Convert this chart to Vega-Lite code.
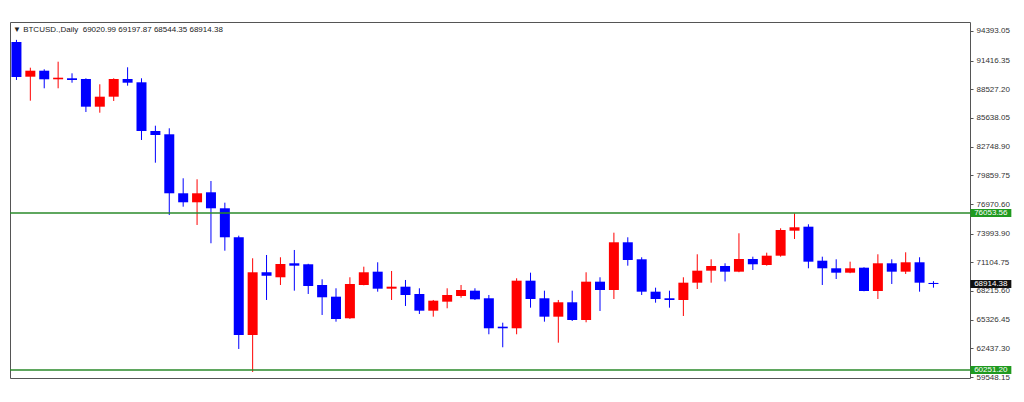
{
  "$schema": "https://vega.github.io/schema/vega-lite/v6.json",
  "width": 960,
  "height": 356,
  "autosize": {"type": "none"},
  "padding": {"left": 10, "top": 22, "right": 54, "bottom": 24},
  "background": "white",
  "config": {"view": {"stroke": "#555555", "strokeWidth": 1}, "font": "Liberation Sans"},
  "title": {"text": "▼ BTCUSD.,Daily\u00a0\u00a069020.99 69197.87 68544.35 68914.38", "anchor": "start", "frame": "group", "offset": -12, "dx": 3, "fontSize": 8, "fontWeight": "normal", "color": "#222222", "font": "Liberation Sans"},
  "datasets": {
    "candles": [
      {"day": 1, "open": 93285, "high": 93500, "low": 89459, "close": 89761},
      {"day": 2, "open": 89791, "high": 90697, "low": 87374, "close": 90395},
      {"day": 3, "open": 90395, "high": 90536, "low": 88623, "close": 89529},
      {"day": 4, "open": 89529, "high": 91302, "low": 88623, "close": 89690},
      {"day": 5, "open": 89630, "high": 90133, "low": 89187, "close": 89459},
      {"day": 6, "open": 89559, "high": 89630, "low": 86236, "close": 86770},
      {"day": 7, "open": 86770, "high": 89026, "low": 86165, "close": 87777},
      {"day": 8, "open": 87777, "high": 89630, "low": 87344, "close": 89559},
      {"day": 9, "open": 89559, "high": 90738, "low": 88885, "close": 89187},
      {"day": 10, "open": 89227, "high": 89630, "low": 83417, "close": 84323},
      {"day": 11, "open": 84323, "high": 84857, "low": 81131, "close": 83920},
      {"day": 12, "open": 83991, "high": 84595, "low": 75864, "close": 78050},
      {"day": 13, "open": 78050, "high": 79560, "low": 76700, "close": 77143},
      {"day": 14, "open": 77143, "high": 79459, "low": 74857, "close": 78050},
      {"day": 15, "open": 78150, "high": 79288, "low": 73015, "close": 76539},
      {"day": 16, "open": 76539, "high": 77103, "low": 72269, "close": 73619},
      {"day": 17, "open": 73619, "high": 73780, "low": 62371, "close": 63780},
      {"day": 18, "open": 63780, "high": 71504, "low": 60060, "close": 70094},
      {"day": 19, "open": 70094, "high": 71836, "low": 67305, "close": 69752},
      {"day": 20, "open": 69591, "high": 71605, "low": 68815, "close": 70930},
      {"day": 21, "open": 71000, "high": 72340, "low": 68241, "close": 70759},
      {"day": 22, "open": 70900, "high": 70950, "low": 67909, "close": 68714},
      {"day": 23, "open": 68815, "high": 69389, "low": 65794, "close": 67577},
      {"day": 24, "open": 67637, "high": 68483, "low": 65120, "close": 65391},
      {"day": 25, "open": 65462, "high": 69591, "low": 65400, "close": 68916},
      {"day": 26, "open": 68815, "high": 70658, "low": 68780, "close": 70094},
      {"day": 27, "open": 70155, "high": 71101, "low": 68141, "close": 68443},
      {"day": 28, "open": 68443, "high": 70225, "low": 67305, "close": 68644},
      {"day": 29, "open": 68644, "high": 69319, "low": 66700, "close": 67808},
      {"day": 30, "open": 67909, "high": 68483, "low": 65895, "close": 66227},
      {"day": 31, "open": 66227, "high": 67305, "low": 65623, "close": 67234},
      {"day": 32, "open": 67134, "high": 68483, "low": 66469, "close": 67808},
      {"day": 33, "open": 67707, "high": 68815, "low": 67536, "close": 68312},
      {"day": 34, "open": 68241, "high": 68483, "low": 67305, "close": 67375},
      {"day": 35, "open": 67476, "high": 67808, "low": 63851, "close": 64455},
      {"day": 36, "open": 64616, "high": 65019, "low": 62542, "close": 64455},
      {"day": 37, "open": 64455, "high": 69490, "low": 63851, "close": 69248},
      {"day": 38, "open": 69248, "high": 70054, "low": 66529, "close": 67405},
      {"day": 39, "open": 67476, "high": 68241, "low": 65120, "close": 65623},
      {"day": 40, "open": 65623, "high": 67305, "low": 63005, "close": 67073},
      {"day": 41, "open": 67073, "high": 68241, "low": 65190, "close": 65291},
      {"day": 42, "open": 65291, "high": 70094, "low": 65059, "close": 69148},
      {"day": 43, "open": 69148, "high": 69591, "low": 66197, "close": 68312},
      {"day": 44, "open": 68312, "high": 74082, "low": 67405, "close": 73115},
      {"day": 45, "open": 73115, "high": 73619, "low": 70759, "close": 71333},
      {"day": 46, "open": 71403, "high": 71605, "low": 67808, "close": 68141},
      {"day": 47, "open": 68141, "high": 68543, "low": 67033, "close": 67405},
      {"day": 48, "open": 67476, "high": 68241, "low": 66529, "close": 67305},
      {"day": 49, "open": 67305, "high": 69591, "low": 65693, "close": 69047},
      {"day": 50, "open": 69047, "high": 71907, "low": 68412, "close": 70255},
      {"day": 51, "open": 70255, "high": 71403, "low": 69047, "close": 70728},
      {"day": 52, "open": 70728, "high": 71000, "low": 69168, "close": 70155},
      {"day": 53, "open": 70155, "high": 74021, "low": 70100, "close": 71433},
      {"day": 54, "open": 71433, "high": 71665, "low": 70326, "close": 70900},
      {"day": 55, "open": 70829, "high": 72068, "low": 70759, "close": 71766},
      {"day": 56, "open": 71766, "high": 74525, "low": 71665, "close": 74354},
      {"day": 57, "open": 74283, "high": 76035, "low": 73447, "close": 74626},
      {"day": 58, "open": 74686, "high": 74928, "low": 70497, "close": 71162},
      {"day": 59, "open": 71262, "high": 71665, "low": 68815, "close": 70497},
      {"day": 60, "open": 70497, "high": 71403, "low": 69419, "close": 70054},
      {"day": 61, "open": 70054, "high": 71162, "low": 70000, "close": 70497},
      {"day": 62, "open": 70557, "high": 70600, "low": 68180, "close": 68211},
      {"day": 63, "open": 68211, "high": 71907, "low": 67405, "close": 71000},
      {"day": 64, "open": 71000, "high": 71403, "low": 68916, "close": 70155},
      {"day": 65, "open": 70155, "high": 72108, "low": 69923, "close": 71101},
      {"day": 66, "open": 71101, "high": 71605, "low": 68141, "close": 69047},
      {"day": 67, "open": 69020.99, "high": 69197.87, "low": 68544.35, "close": 68914.38}
    ],
    "levels": [
      {"level": 76053.56},
      {"level": 60251.20}
    ],
    "tags": [
      {"price": 76053.56, "kind": "level"},
      {"price": 60251.20, "kind": "level"},
      {"price": 68914.38, "kind": "last"}
    ]
  },
  "layer": [
    {
      "data": {"name": "candles"},
      "mark": {"type": "rule", "strokeWidth": 1, "clip": true},
      "encoding": {
        "x": {"field": "day", "type": "quantitative", "scale": {"domain": [0.896, 69.27], "nice": false, "zero": false}, "axis": null},
        "y": {
          "field": "low", "type": "quantitative",
          "scale": {"domain": [59448, 95299], "nice": false, "zero": false},
          "axis": {
            "orient": "right", "title": null, "domain": false, "grid": false,
            "values": [94393.05, 91416.35, 88527.20, 85638.05, 82748.90, 79859.75, 76970.60, 73993.90, 71104.75, 68215.60, 65326.45, 62437.30, 59548.15],
            "tickCount": 30,
            "format": ".2f", "labelFont": "Liberation Sans", "labelFontSize": 8, "labelColor": "#333333",
            "labelOverlap": false, "labelBound": false, "labelFlush": false,
            "tickSize": 3, "tickColor": "#555555", "labelPadding": 3
          }
        },
        "y2": {"field": "high"},
        "color": {"condition": {"test": "datum.close < datum.open", "value": "#0000ff"}, "value": "#ff0000"}
      }
    },
    {
      "data": {"name": "candles"},
      "mark": {"type": "bar", "width": 10, "clip": true},
      "encoding": {
        "x": {"field": "day", "type": "quantitative"},
        "y": {"field": "open", "type": "quantitative"},
        "y2": {"field": "close"},
        "color": {"condition": {"test": "datum.close < datum.open", "value": "#0000ff"}, "value": "#ff0000"}
      }
    },
    {
      "data": {"name": "levels"},
      "mark": {"type": "rule", "color": "#2a8a2a", "strokeWidth": 1.5},
      "encoding": {
        "y": {"field": "level", "type": "quantitative"}
      }
    },
    {
      "data": {"name": "tags"},
      "mark": {"type": "tick", "orient": "horizontal", "size": 41, "thickness": 8, "clip": false, "opacity": 1},
      "encoding": {
        "x": {"datum": 71.13, "type": "quantitative"},
        "y": {"field": "price", "type": "quantitative"},
        "color": {"field": "kind", "type": "nominal", "scale": {"domain": ["level", "last"], "range": ["#1f9a1f", "#111111"]}, "legend": null}
      }
    },
    {
      "data": {"name": "tags"},
      "mark": {"type": "text", "color": "white", "fontSize": 8, "font": "Liberation Sans", "align": "center", "baseline": "middle", "clip": false},
      "encoding": {
        "x": {"datum": 71.13, "type": "quantitative"},
        "y": {"field": "price", "type": "quantitative"},
        "text": {"field": "price", "type": "quantitative", "format": ".2f"}
      }
    }
  ]
}
